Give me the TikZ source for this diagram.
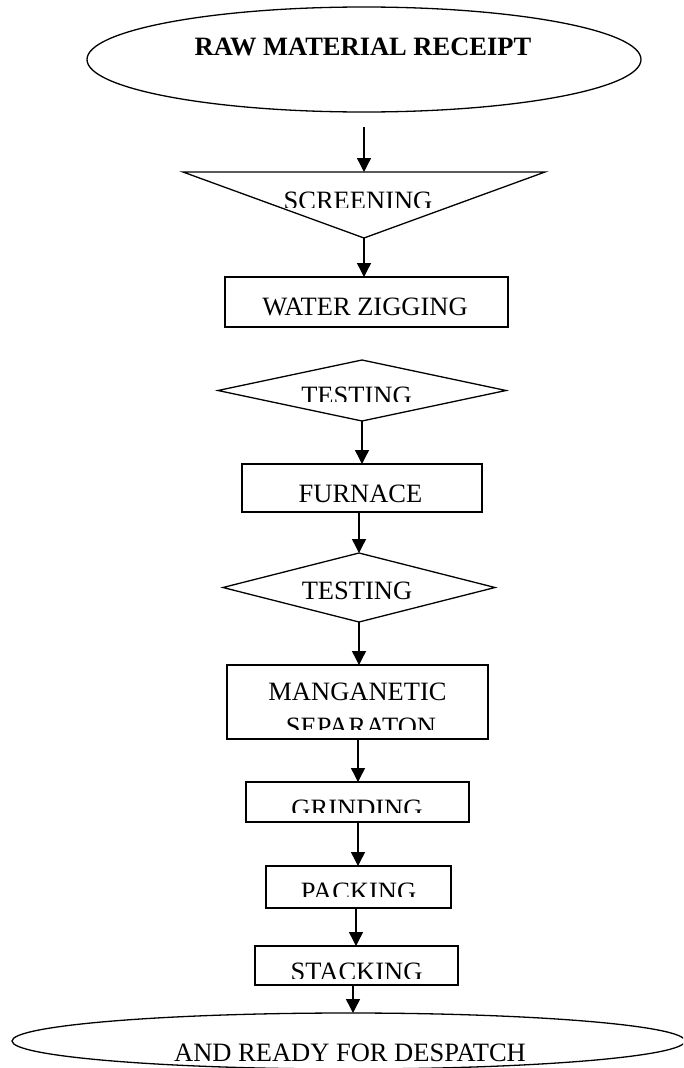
\documentclass[tikz,border=0pt]{standalone}
\usepackage{fontspec}
\setmainfont{Liberation Serif}
\usetikzlibrary{shapes.geometric,arrows.meta}
\begin{document}
\begin{tikzpicture}[x=1pt,y=1pt,
  every node/.style={inner sep=0pt, outer sep=0pt},
  shp/.style={draw, line width=1.3pt},
  procbox/.style={shp, rectangle},
  ovalshape/.style={shp, ellipse},
  decshape/.style={shp, diamond},
  lbl/.style={font=\fontsize{26.5}{30}\selectfont, anchor=base},
  arr/.style={-{Triangle[length=14pt,width=14pt]}, line width=1.4pt}]
\clip (0,0) rectangle (683,-1068);
% shapes
\node[ovalshape, minimum width=554pt, minimum height=105pt] (raw) at (364,-59.5) {};
\coordinate (scrtop) at (364,-172);
\coordinate (scrapex) at (364,-238);
\draw[line width=1.3pt, line join=miter] (183,-172) -- (545,-172) -- (scrapex) -- cycle;
\node[procbox, minimum width=283pt, minimum height=50pt] (water) at (366.5,-302) {};
\node[decshape, minimum width=288pt, minimum height=61pt] (test1) at (362,-390.5) {};
\node[procbox, minimum width=240pt, minimum height=48pt] (furn) at (362,-488) {};
\node[decshape, minimum width=272pt, minimum height=69pt] (test2) at (359,-587.5) {};
\node[procbox, minimum width=261pt, minimum height=74pt] (magn) at (357.5,-702) {};
\node[procbox, minimum width=223pt, minimum height=40pt] (grind) at (357.5,-802) {};
\node[procbox, minimum width=185pt, minimum height=42pt] (pack) at (358.5,-887) {};
\node[procbox, minimum width=203pt, minimum height=39pt] (stack) at (356.5,-965.5) {};
\node[ovalshape, minimum width=673pt, minimum height=56pt] (desp) at (348.5,-1041) {};
% texts
\node[lbl, font=\fontsize{26.5}{30}\selectfont\bfseries] (t-raw) at (363,-55) {RAW MATERIAL RECEIPT};
\begin{scope}
  \clip (0,-150) rectangle (683,-207);
  \node[lbl] (t-scr) at (358,-209.5) {SCREENING};
\end{scope}
\node[lbl] (t-water) at (365,-315) {WATER ZIGGING};
\begin{scope}
  \clip (0,-350) rectangle (683,-401);
  \node[lbl] (t-test1) at (356.5,-404.5) {TESTING};
\end{scope}
\node[lbl] (t-furn) at (360.5,-502) {FURNACE};
\node[lbl] (t-test2) at (357,-599) {TESTING};
\node[lbl] (t-magn1) at (357.5,-700) {MANGANETIC};
\begin{scope}
  \clip (0,-705) rectangle (683,-729);
  \node[lbl] (t-magn2) at (361,-735.5) {SEPARATON};
\end{scope}
\begin{scope}
  \clip (0,-785) rectangle (683,-812);
  \node[lbl] (t-grind) at (357,-817.5) {GRINDING};
\end{scope}
\begin{scope}
  \clip (0,-870) rectangle (683,-896);
  \node[lbl] (t-pack) at (358.5,-900.5) {PACKING};
\end{scope}
\begin{scope}
  \clip (0,-950) rectangle (683,-978);
  \node[lbl] (t-stack) at (356.5,-980.5) {STACKING};
\end{scope}
\node[lbl] (t-desp) at (350,-1061) {AND READY FOR DESPATCH};
% connectors
\coordinate (a0) at (364,-127);
\draw[arr] (a0) -- (scrtop);
\draw[arr] (scrapex) -- (scrapex |- water.north);
\draw[arr] (test1.south) -- (test1.south |- furn.north);
\draw[arr] (furn.south -| test2.north) -- (test2.north);
\draw[arr] (test2.south) -- (test2.south |- magn.north);
\draw[arr] ([xshift=0.5pt]magn.south) -- ([xshift=0.5pt]magn.south |- grind.north);
\draw[arr] ([xshift=0.5pt]grind.south) -- ([xshift=0.5pt]grind.south |- pack.north);
\draw[arr] ([xshift=-2.5pt]pack.south) -- ([xshift=-2.5pt]pack.south |- stack.north);
\draw[arr] ([xshift=-3.5pt]stack.south) -- ([xshift=-3.5pt]stack.south |- desp.north);
\end{tikzpicture}
\end{document}
